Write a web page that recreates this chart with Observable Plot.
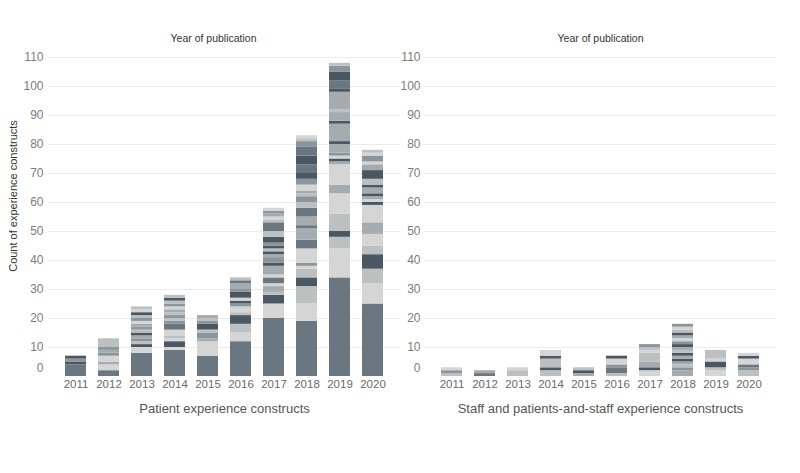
<!DOCTYPE html>
<html><head><meta charset="utf-8">
<script src="https://cdn.jsdelivr.net/npm/d3@7"></script>
<script src="https://cdn.jsdelivr.net/npm/@observablehq/plot@0.6"></script>
<style>
body{margin:0;background:#fff;font-family:"Liberation Sans",Arial,sans-serif}
#wrap{display:flex;width:800px;height:473px;overflow:hidden}
</style></head><body><div id="wrap"></div>
<script>
const years = [2011, 2012, 2013, 2014, 2015, 2016, 2017, 2018, 2019, 2020];
const groups = ["g0", "g1", "g2", "g3", "g4", "g5"];
const groupColors = ["#6b7780", "#4c5764", "#8a959c", "#a5abae", "#bdc0c1", "#d5d5d5"];
const yTicks = [10, 20, 30, 40, 50, 60, 70, 80, 90, 100, 110];
const zeroTick = [0];
const topTitle = "Year of publication";
const yTitle = "Count of experience constructs";
const captions = ["Patient experience constructs", "Staff and patients-and-staff experience constructs"];

// [count, group] per stacked segment, bottom to top, one list per year
const patientSegments = [
  [[4,0],[1,1],[1,2],[1,1]],
  [[2,0],[2,5],[1,3],[2,5],[1,2],[1,3],[1,2],[3,4]],
  [[8,0],[2,5],[1,1],[1,4],[1,2],[1,3],[1,1],[1,4],[1,2],[1,3],[1,5],[1,2],[1,4],[1,1],[1,5],[1,4]],
  [[9,0],[1,5],[2,1],[1,5],[1,4],[2,5],[2,0],[1,2],[1,4],[1,2],[1,4],[1,3],[1,5],[1,2],[1,4],[1,1],[1,4]],
  [[7,0],[5,5],[1,3],[2,2],[1,4],[2,1],[1,2],[1,4],[1,3]],
  [[12,0],[3,5],[3,4],[3,1],[1,4],[2,5],[1,2],[1,1],[1,5],[2,1],[1,2],[2,3],[1,0],[1,4]],
  [[20,0],[5,5],[3,1],[1,4],[2,3],[1,5],[2,0],[1,5],[3,3],[1,1],[2,2],[1,3],[1,1],[1,4],[1,1],[1,2],[2,1],[2,4],[3,0],[1,4],[1,5],[1,3],[1,2],[1,5]],
  [[19,0],[6,5],[6,4],[3,1],[3,4],[1,5],[1,2],[5,5],[3,0],[4,3],[1,0],[3,3],[3,0],[2,4],[2,2],[1,4],[1,3],[2,5],[2,2],[2,1],[3,0],[3,1],[3,0],[2,2],[1,4],[1,5]],
  [[34,0],[10,5],[4,4],[2,1],[6,4],[7,5],[3,3],[7,5],[1,3],[1,1],[1,5],[1,2],[3,3],[1,1],[6,3],[1,1],[3,3],[1,4],[6,3],[1,1],[3,0],[3,1],[2,2],[1,4]],
  [[25,0],[7,5],[5,4],[5,1],[3,4],[4,5],[4,3],[6,5],[1,1],[1,5],[1,3],[1,1],[2,3],[1,1],[2,4],[3,1],[2,3],[1,5],[2,2],[1,5],[1,4]]
];
const staffSegments = [
  [[1,4],[1,2],[1,5]],
  [[1,0],[1,3]],
  [[2,4],[1,5]],
  [[2,4],[1,1],[3,4],[1,1],[2,5]],
  [[1,3],[1,1],[1,4]],
  [[1,4],[2,0],[1,2],[2,5],[1,1]],
  [[2,5],[1,1],[2,3],[3,4],[1,5],[1,4],[1,2]],
  [[2,3],[1,2],[1,4],[1,3],[1,1],[1,3],[1,1],[1,4],[1,3],[1,1],[1,2],[1,5],[1,3],[1,1],[1,4],[1,5],[1,2]],
  [[2,5],[1,4],[2,1],[1,5],[3,4]],
  [[2,4],[1,2],[1,0],[2,5],[1,1],[1,5]]
];

function rows(segs) {
  const out = [];
  segs.forEach((s, i) => s.forEach(([v, g]) => out.push({year: String(years[i]), value: v, group: groups[g]})));
  return out;
}

function panel({segs, marginLeft, marginRight, tickPadding, caption, topDx, withYTitle}) {
  const marks = [
    Plot.gridY(yTicks, {stroke: "#ebebeb", strokeOpacity: 1}),
    Plot.barY(rows(segs), {x: "year", y: "value", fill: "group"}),
    Plot.axisY(yTicks, {tickSize: 0, tickPadding, fontSize: 12, fill: "#7c7c7c"}),
    Plot.axisY(zeroTick, {tickSize: 0, tickPadding, dy: -8, fontSize: 12, fill: "#7c7c7c"}),
    Plot.axisX({tickSize: 0, tickPadding: 3, fontSize: 11.5, fill: "#6a6a6a"}),
    Plot.text([topTitle], {text: d => d, frameAnchor: "top", dy: -23, dx: topDx, fontSize: 10.5, fill: "#333"}),
    Plot.text([caption], {text: d => d, frameAnchor: "bottom", dy: 36, fontSize: 13, fill: "#555"})
  ];
  if (withYTitle) marks.push(Plot.text([yTitle], {text: d => d, frameAnchor: "left", textAnchor: "middle", rotate: -90, dx: -35, dy: -21, fontSize: 11, fill: "#333"}));
  return Plot.plot({
    width: 400, height: 473,
    marginTop: 57, marginBottom: 97, marginLeft, marginRight,
    style: {fontFamily: "Liberation Sans, Arial, sans-serif", background: "#fff", overflow: "visible"},
    x: {type: "band", domain: years.map(String), padding: 0.375, label: null},
    y: {domain: [0, 110], label: null},
    color: {domain: groups, range: groupColors},
    marks
  });
}

const wrap = document.getElementById("wrap");
wrap.append(panel({segs: patientSegments, marginLeft: 48, marginRight: 0, tickPadding: 5, caption: captions[0], topDx: -11, withYTitle: true}));
wrap.append(panel({segs: staffSegments, marginLeft: 24, marginRight: 24, tickPadding: 4, caption: captions[1], topDx: 0, withYTitle: false}));
</script></body></html>
